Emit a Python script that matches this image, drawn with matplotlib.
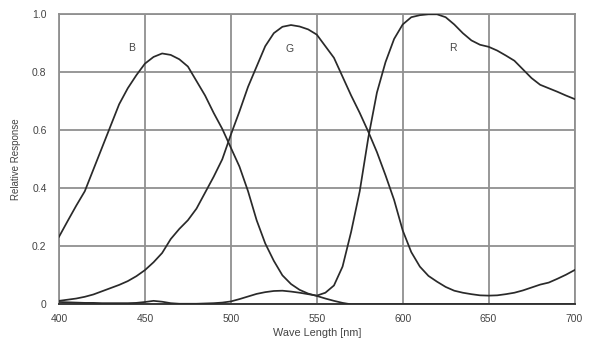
import matplotlib
matplotlib.use('Agg')
import matplotlib.pyplot as plt

plt.rcParams['font.family'] = ['Liberation Sans', 'DejaVu Sans']

# wavelength grid of the readings [nm]
wave = list(range(400, 705, 5))

blue = [0.233, 0.287, 0.34, 0.39, 0.465, 0.54, 0.615, 0.69, 0.745, 0.79,
        0.83, 0.853, 0.865, 0.86, 0.845, 0.82, 0.77, 0.72, 0.66, 0.605,
        0.54, 0.475, 0.39, 0.29, 0.21, 0.15, 0.10, 0.07, 0.05, 0.037,
        0.029, 0.02, 0.012, 0.005, 0.0, 0.0, 0.0, 0.0, 0.0, 0.0,
        0.0, 0.0, 0.0, 0.0, 0.0, 0.0, 0.0, 0.0, 0.0, 0.0,
        0.0, 0.0, 0.0, 0.0, 0.0, 0.0, 0.0, 0.0, 0.0, 0.0, 0.0]

green = [0.012, 0.016, 0.02, 0.026, 0.034, 0.045, 0.056, 0.067, 0.08, 0.097,
         0.118, 0.145, 0.177, 0.225, 0.26, 0.29, 0.33, 0.385, 0.44, 0.50,
         0.585, 0.665, 0.75, 0.82, 0.89, 0.935, 0.957, 0.963, 0.958, 0.948,
         0.93, 0.89, 0.85, 0.785, 0.72, 0.66, 0.595, 0.525, 0.445, 0.36,
         0.255, 0.18, 0.13, 0.098, 0.078, 0.06, 0.047, 0.04, 0.035, 0.031,
         0.03, 0.031, 0.035, 0.04, 0.048, 0.058, 0.068, 0.075, 0.088, 0.102, 0.118]

red = [0.008, 0.007, 0.006, 0.005, 0.005, 0.004, 0.004, 0.004, 0.004, 0.005,
       0.008, 0.012, 0.009, 0.004, 0.002, 0.002, 0.002, 0.003, 0.004, 0.006,
       0.01, 0.018, 0.027, 0.036, 0.042, 0.046, 0.047, 0.044, 0.04, 0.035,
       0.03, 0.04, 0.065, 0.13, 0.25, 0.39, 0.575, 0.73, 0.835, 0.915,
       0.965, 0.99, 0.997, 1.0, 1.0, 0.99, 0.965, 0.935, 0.91, 0.895,
       0.888, 0.875, 0.858, 0.84, 0.81, 0.78, 0.757, 0.745, 0.733, 0.72, 0.708]

curve_labels = ['B', 'G', 'R']
label_pos = [(442, 0.884), (534, 0.88), (629, 0.884)]

x_ticks = [400, 450, 500, 550, 600, 650, 700]
y_ticks = [0, 0.2, 0.4, 0.6, 0.8, 1.0]
y_tick_labels = ['0', '0.2', '0.4', '0.6', '0.8', '1.0']

fig = plt.figure(figsize=(6.11, 3.49), dpi=100)
ax = fig.add_axes([0.0966, 0.128, 0.8437, 0.831])

for ys in (blue, green, red):
    ax.plot(wave, ys, color='#2a2a2a', lw=1.25, solid_joinstyle='round', zorder=3)

for lab, (lx, ly) in zip(curve_labels, label_pos):
    ax.text(lx, ly, lab, fontsize=7.5, color='#444444', ha='center', va='center')

ax.set_xlim(400, 700)
ax.set_ylim(0, 1.0)
ax.set_xticks(x_ticks)
ax.set_yticks(y_ticks)
ax.set_yticklabels(y_tick_labels)
ax.grid(True, color='#909090', lw=1.3)
ax.set_axisbelow(True)
ax.tick_params(length=0, labelsize=7.5, labelcolor='#444444')
ax.tick_params(axis='y', pad=9)
ax.tick_params(axis='x', pad=7)
for side in ['top', 'right', 'left']:
    ax.spines[side].set_color('#909090')
    ax.spines[side].set_linewidth(1.3)
ax.spines['bottom'].set_color('#3a3a3a')
ax.spines['bottom'].set_linewidth(1.4)

ax.set_xlabel('Wave Length [nm]', fontsize=7.8, color='#444444', labelpad=3)
ax.set_ylabel('Relative Response', fontsize=7, color='#444444', labelpad=8)

fig.savefig('out.png', dpi=100)
